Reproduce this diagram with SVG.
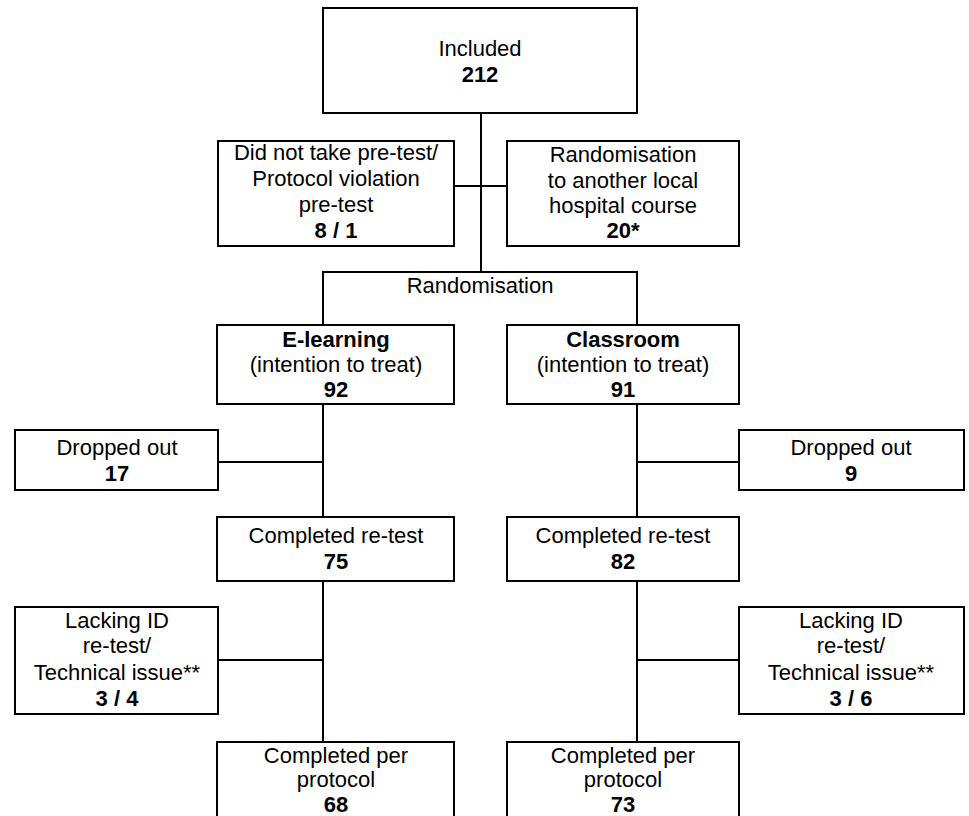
<svg xmlns="http://www.w3.org/2000/svg" width="969" height="816" viewBox="0 0 969 816">
<style>
rect.box{fill:#fff;stroke:#000;stroke-width:2}
.c line{stroke:#000;stroke-width:2}
text{font-family:"Liberation Sans",Arial,sans-serif;font-size:22px;fill:#000;text-anchor:middle}
.b{font-weight:bold}
</style>
<rect width="969" height="816" fill="#fff"/>
<g class="c" id="connectors">
<line x1="481" y1="113" x2="481" y2="273"/>
<line x1="454" y1="186" x2="507" y2="186"/>
<line x1="322" y1="272" x2="638" y2="272"/>
<line x1="323" y1="271" x2="323" y2="325"/>
<line x1="637" y1="271" x2="637" y2="325"/>
<line x1="323" y1="404" x2="323" y2="517"/>
<line x1="637" y1="404" x2="637" y2="517"/>
<line x1="218" y1="462" x2="323" y2="462"/>
<line x1="637" y1="462" x2="739" y2="462"/>
<line x1="323" y1="581" x2="323" y2="742"/>
<line x1="637" y1="581" x2="637" y2="742"/>
<line x1="218" y1="660" x2="323" y2="660"/>
<line x1="637" y1="660" x2="739" y2="660"/>
</g>
<text x="480" y="293">Randomisation</text>
<g id="included"><rect class="box" x="323" y="8" width="314" height="105"/><text x="480" y="56">Included</text><text class="b" x="480" y="82">212</text></g>
<g id="notpretest"><rect class="box" x="218" y="141" width="236" height="105"/><text x="336" y="160">Did not take pre-test/</text><text x="336" y="186">Protocol violation</text><text x="336" y="212">pre-test</text><text class="b" x="336" y="238">8 / 1</text></g>
<g id="otherhospital"><rect class="box" x="507" y="141" width="232" height="105"/><text x="623" y="162">Randomisation</text><text x="623" y="188">to another local</text><text x="623" y="213">hospital course</text><text class="b" x="623" y="238">20*</text></g>
<g id="elearning"><rect class="box" x="217" y="325" width="237" height="79"/><text class="b" x="336" y="347">E-learning</text><text x="336" y="372">(intention to treat)</text><text class="b" x="336" y="397">92</text></g>
<g id="classroom"><rect class="box" x="507" y="325" width="232" height="79"/><text class="b" x="623" y="347">Classroom</text><text x="623" y="372">(intention to treat)</text><text class="b" x="623" y="397">91</text></g>
<g id="dropL"><rect class="box" x="15" y="430" width="203" height="60"/><text x="117" y="455">Dropped out</text><text class="b" x="117" y="481">17</text></g>
<g id="dropR"><rect class="box" x="739" y="430" width="225" height="60"/><text x="851" y="455">Dropped out</text><text class="b" x="851" y="481">9</text></g>
<g id="retestL"><rect class="box" x="217" y="517" width="237" height="64"/><text x="336" y="543">Completed re-test</text><text class="b" x="336" y="569">75</text></g>
<g id="retestR"><rect class="box" x="507" y="517" width="232" height="64"/><text x="623" y="543">Completed re-test</text><text class="b" x="623" y="569">82</text></g>
<g id="lackL"><rect class="box" x="15" y="607" width="203" height="107"/><text x="117" y="628">Lacking ID</text><text x="117" y="653">re-test/</text><text x="117" y="680">Technical issue**</text><text class="b" x="117" y="706">3 / 4</text></g>
<g id="lackR"><rect class="box" x="739" y="607" width="225" height="107"/><text x="851" y="628">Lacking ID</text><text x="851" y="653">re-test/</text><text x="851" y="680">Technical issue**</text><text class="b" x="851" y="706">3 / 6</text></g>
<g id="ppL"><rect class="box" x="217" y="742" width="237" height="90"/><text x="336" y="763">Completed per</text><text x="336" y="787">protocol</text><text class="b" x="336" y="812">68</text></g>
<g id="ppR"><rect class="box" x="507" y="742" width="232" height="90"/><text x="623" y="763">Completed per</text><text x="623" y="787">protocol</text><text class="b" x="623" y="812">73</text></g>
</svg>
